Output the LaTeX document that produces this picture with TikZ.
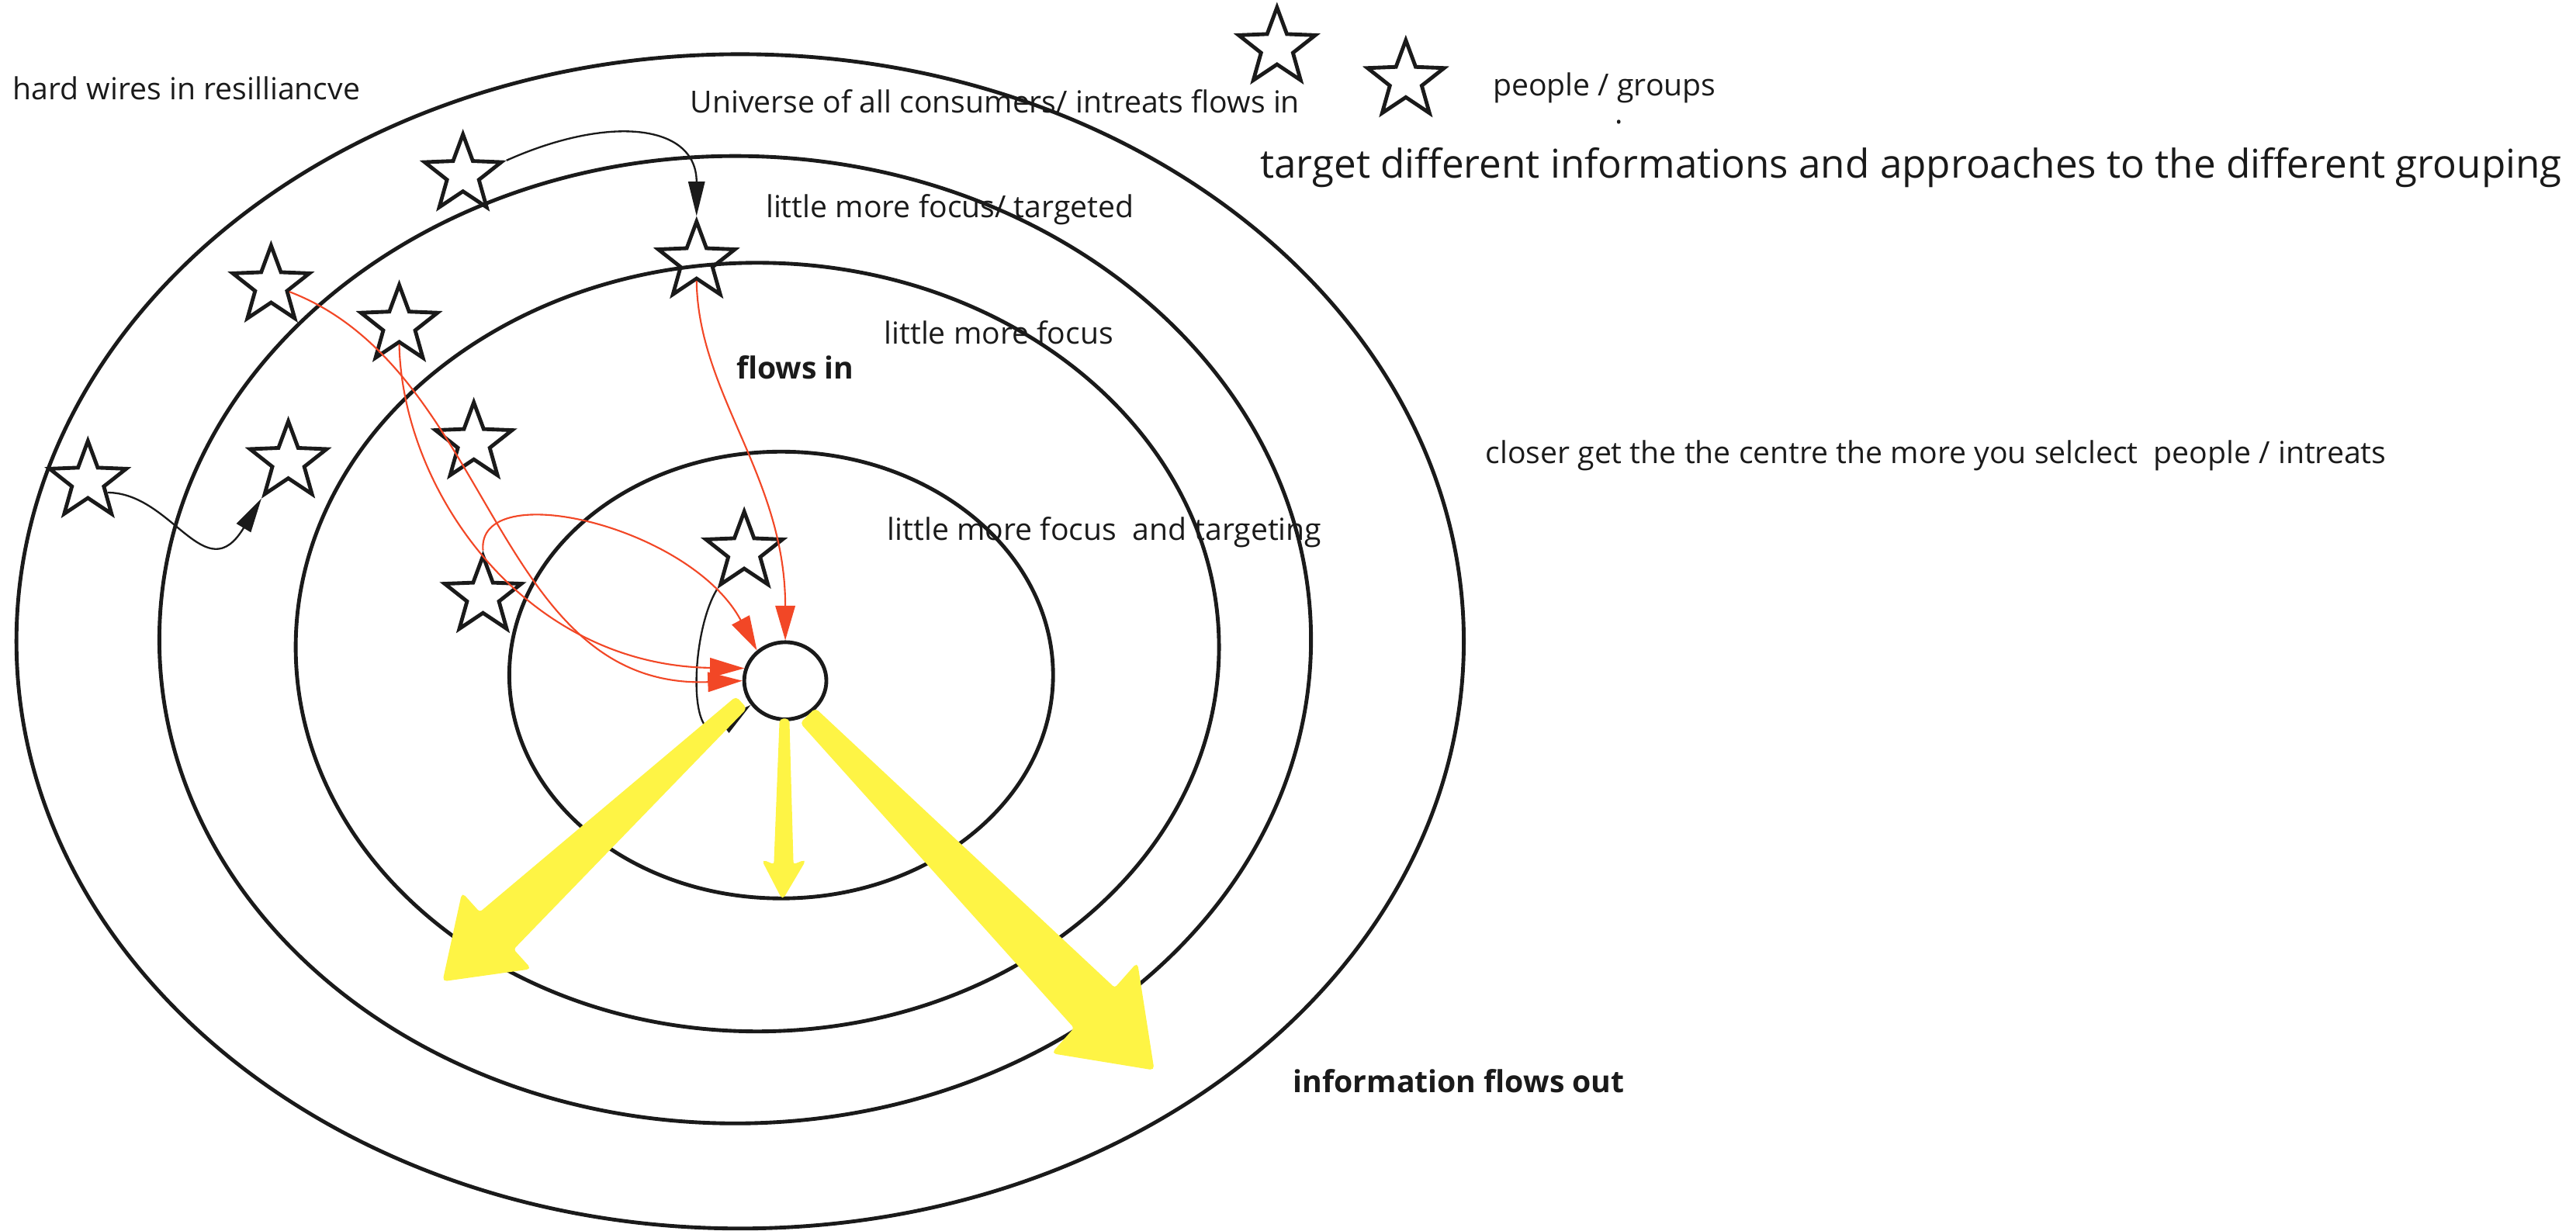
\documentclass[tikz,border=0pt]{standalone}
\usepackage{fontspec}
\setmainfont{Open Sans}
\usetikzlibrary{shapes.geometric,arrows.meta}

\definecolor{ink}{HTML}{1A1A1A}
\definecolor{flowred}{HTML}{F24726}
\definecolor{flowyellow}{HTML}{FEF445}

\tikzset{
  ring/.style={ellipse, draw=ink, line width=2.3pt, inner sep=0},
  person/.style={star, star points=5, star point ratio=2.4, minimum size=49pt, inner sep=0, draw=ink, line width=2.3pt},
  lbl/.style={anchor=base west, inner sep=0, text=ink, font=\fontsize{18.5}{22}\selectfont},
  boldlbl/.style={lbl, font=\fontsize{18.5}{22}\selectfont\bfseries},
  biglbl/.style={lbl, font=\fontsize{24.15}{29}\selectfont},
  inflow/.style={flowred, line width=1pt, -{Triangle[length=21pt,width=12pt]}},
  link/.style={ink, line width=1.1pt, -{Triangle[length=21pt,width=10pt]}},
  outflow/.style={fill=flowyellow, draw=flowyellow, line width=1pt, rounded corners=2pt}
}

\begin{document}
\begin{tikzpicture}[x=1pt, y=-1pt]
\useasboundingbox (0,0) rectangle (1568,749.5);

\node[ring, minimum width=881pt, minimum height=715pt] (universe) at (450.5,390.5) {};
\node[ring, minimum width=701pt, minimum height=589pt] (targeted) at (447.5,389.5) {};
\node[ring, minimum width=562pt, minimum height=468pt] (focus) at (461,394) {};
\node[ring, minimum width=331pt, minimum height=272pt] (inner) at (475.5,411) {};
\node[ring, minimum width=50pt, minimum height=47pt] (core) at (478,414.5) {};

\node[person] (key1) at (777.3,29) {};
\node[person] (key2) at (855.7,49) {};
\node[person] (grp3) at (281.8,106.3) {};
\node[person] (grp4) at (424,159.4) {};
\node[person] (grp5) at (165,174) {};
\node[person] (grp6) at (243,198) {};
\node[person] (grp7) at (288.4,269.5) {};
\node[person] (grp8) at (53.5,293) {};
\node[person] (grp9) at (175.5,281) {};
\node[person] (grp10) at (294,363) {};
\node[person] (grp11) at (453,336) {};

\node[lbl] (resilience) at (7.7,60.5) {hard wires in resilliancve};
\node[lbl] (universelbl) at (420,68.5) {Universe of all consumers/ intreats flows in};
\node[lbl] (people) at (908.5,58.3) {people / groups};
\node[lbl, anchor=base] (dot) at (985.3,75.5) {.};
\node[biglbl] (approach) at (767,108.6) {target different informations and approaches to the different grouping};
\node[lbl] (targetedlbl) at (466,132.3) {little more focus/ targeted};
\node[lbl] (focuslbl) at (538,209.4) {little more focus};
\node[boldlbl] (flowsin) at (448,230.7) {flows in};
\node[lbl] (closer) at (904,282) {closer get the the centre the more you selclect\ \ people / intreats};
\node[lbl] (innerlbl) at (540,329) {little more focus\ \ and targeting};
\node[boldlbl] (flowsout) at (787,665.4) {information flows out};

\draw[link] (grp3.18) .. controls (370,70) and (424,75) .. (grp4.90);
\draw[link] (grp8.-30) .. controls (105,300) and (125,360) .. (grp9.234);
\draw[link] (grp11.234) .. controls (420,385) and (418,460) .. (core.215);

\draw[inflow] (grp5.-18) .. controls (300,225) and (300,420) .. (core.180);
\draw[inflow] (grp6.270) .. controls (245,300) and (320,405) .. (core.163);
\draw[inflow] (grp10.90) .. controls (290,290) and (420,320) .. (core.133);
\draw[inflow] (grp4.270) .. controls (425,240) and (478,290) .. (core.north);

\filldraw[outflow] (448,424.7) -- (292,556) -- (281.5,544.4) -- (270,597) -- (322.5,589.6) -- (312,578) -- (454,431.3) -- cycle;
\filldraw[outflow] (475,438) -- (471.5,527) -- (464.4,524) -- (476.3,547) -- (489.9,524) -- (482.5,527) -- (480,438) -- cycle;
\filldraw[outflow] (496.3,431.8) -- (678.6,602.1) -- (692,587) -- (702,651) -- (641,641) -- (654.4,625.9) -- (487.7,440.2) -- cycle;
\end{tikzpicture}
\end{document}
